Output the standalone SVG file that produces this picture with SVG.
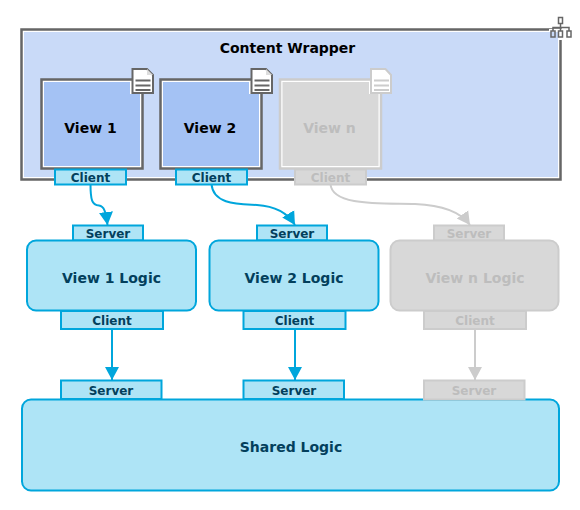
<svg xmlns="http://www.w3.org/2000/svg" width="580" height="510" viewBox="0 0 580 510">
<style>
text{font-family:"DejaVu Sans",sans-serif;font-weight:700;text-anchor:middle}
.t{font-size:14px}.s{font-size:12px}
.b{fill:#aee4f6;stroke:#00a6dc;stroke-width:2}
.bt{fill:#033f5c}
.g{fill:#d8d8d8;stroke:#cccccc;stroke-width:2}
.gt{fill:#bdbdbd}
.cb{fill:none;stroke:#00a6dc;stroke-width:2}
.cg{fill:none;stroke:#cccccc;stroke-width:2}
.o{fill:none;stroke:#666;stroke-width:2}
</style>
<defs>
<marker id="ab" markerUnits="userSpaceOnUse" markerWidth="14" markerHeight="16" refX="13" refY="8" orient="auto"><path d="M0 1L13 8L0 15z" fill="#00a6dc"/></marker>
<marker id="ag" markerUnits="userSpaceOnUse" markerWidth="14" markerHeight="16" refX="13" refY="8" orient="auto"><path d="M0 1L13 8L0 15z" fill="#ccc"/></marker>
</defs>
<g id="wrapper">
<rect x="21.500" y="29.500" width="539" height="150" fill="#fff" stroke="#666" stroke-width="2.500"/>
<rect x="24" y="32" width="534" height="145" fill="#c9daf8"/>
<text x="287.500" y="53" class="t" fill="#000">Content Wrapper</text>
<path d="M549 29h13v11h-4v-8h-9z" fill="#fff"/>
<g class="o" style="stroke-width:1.500"><rect x="558.500" y="17.500" width="4" height="6"/><rect x="551" y="31" width="4" height="6"/><rect x="558.500" y="31" width="4" height="6"/><rect x="567" y="31" width="4" height="6"/><path d="M560.500 23.500V31M553 31V27.500H569V31"/></g>
</g>
<g id="view1">
<rect x="41.500" y="79.500" width="101" height="89" fill="#fff" stroke="#666" stroke-width="2.500"/>
<rect x="44" y="82" width="96" height="84" fill="#a4c2f4"/>
<text x="90.500" y="133" class="t" fill="#000">View 1</text>
<path d="M130 81h13v13h-13z" fill="#fff"/>
<path d="M132.500 69H147L153 75V93H132.500z" fill="#fff" stroke="#666" stroke-width="2"/>
<path d="M147 69V75H153" fill="#ddd" stroke="none"/>
<path d="M135.500 80.500h15M135.500 85.500h15M135.500 90h15" stroke="#666" stroke-width="2" fill="none"/>
</g>
<g id="view2">
<rect x="160.500" y="79.500" width="101" height="89" fill="#fff" stroke="#666" stroke-width="2.500"/>
<rect x="163" y="82" width="96" height="84" fill="#a4c2f4"/>
<text x="210" y="133" class="t" fill="#000">View 2</text>
<path d="M249 81h13v13h-13z" fill="#fff"/>
<path d="M251.500 69H266L272 75V93H251.500z" fill="#fff" stroke="#666" stroke-width="2"/>
<path d="M266 69V75H272" fill="#ddd" stroke="none"/>
<path d="M254.500 80.500h15M254.500 85.500h15M254.500 90h15" stroke="#666" stroke-width="2" fill="none"/>
</g>
<g id="viewN">
<rect x="280" y="79.500" width="101" height="89" fill="#fff" stroke="#ccc" stroke-width="2.500"/>
<rect x="282.500" y="82" width="96" height="84" fill="#d8d8d8"/>
<text x="329.500" y="133" class="t gt">View n</text>
<path d="M369 81h13v13h-13z" fill="#fff"/>
<path d="M371 69H385.500L391 75V93H371z" fill="#fff" stroke="#ccc" stroke-width="2"/>
<path d="M374 80.500h15M374 85.500h15M374 90h15" stroke="#ccc" stroke-width="2" fill="none"/>
</g>
<g id="connectors">
<path class="cb" marker-end="url(#ab)" d="M90.500 184C90.500 200 92 205 99 205.500C104 206 106 212 107.500 225"/>
<path class="cb" marker-end="url(#ab)" d="M211.500 184C213 205 240 204 257 205C274 206 287 212 295 225"/>
<path class="cg" marker-end="url(#ag)" d="M330.500 184C332 207 385 203 415 204C440 205 460 211 470 225"/>
<path class="cb" marker-end="url(#ab)" d="M112 329V380"/>
<path class="cb" marker-end="url(#ab)" d="M295 329V380"/>
<path class="cg" marker-end="url(#ag)" d="M475 329V380"/>
</g>
<g id="ports-top">
<g><rect class="b" x="55" y="169.500" width="71" height="15"/><text x="90.500" y="182" class="s bt">Client</text></g>
<g><rect class="b" x="176" y="169.500" width="71" height="15"/><text x="211.500" y="182" class="s bt">Client</text></g>
<g><rect class="g" x="295" y="169.500" width="71" height="15"/><text x="330.500" y="182" class="s gt">Client</text></g>
</g>
<g id="logic1">
<rect class="b" x="73" y="225.500" width="70" height="15"/><text x="108" y="238" class="s bt">Server</text>
<rect class="b" x="27" y="240.500" width="169" height="70" rx="9"/><text x="111.500" y="283" class="t bt">View 1 Logic</text>
<rect class="b" x="61" y="311" width="102" height="18"/><text x="112" y="325" class="s bt">Client</text>
</g>
<g id="logic2">
<rect class="b" x="257" y="225.500" width="70" height="15"/><text x="292" y="238" class="s bt">Server</text>
<rect class="b" x="209.500" y="240.500" width="169" height="70" rx="9"/><text x="294" y="283" class="t bt">View 2 Logic</text>
<rect class="b" x="243.500" y="311" width="102" height="18"/><text x="294.500" y="325" class="s bt">Client</text>
</g>
<g id="logicN">
<rect class="g" x="434" y="225.500" width="70" height="15"/><text x="469" y="238" class="s gt">Server</text>
<rect class="g" x="390.500" y="240.500" width="168" height="70" rx="9"/><text x="475" y="283" class="t gt">View n Logic</text>
<rect class="g" x="424" y="311" width="102" height="18"/><text x="475" y="325" class="s gt">Client</text>
</g>
<g id="shared">
<rect class="b" x="61" y="380.500" width="100.500" height="18.500"/><text x="111" y="395" class="s bt">Server</text>
<rect class="b" x="243.500" y="380.500" width="100.500" height="18.500"/><text x="294" y="395" class="s bt">Server</text>
<rect class="b" x="22" y="399.500" width="537" height="91" rx="9"/>
<rect class="g" x="424" y="380.500" width="100.500" height="19"/><text x="474" y="395" class="s gt">Server</text>
<text x="291" y="452" class="t bt">Shared Logic</text>
</g>
</svg>
